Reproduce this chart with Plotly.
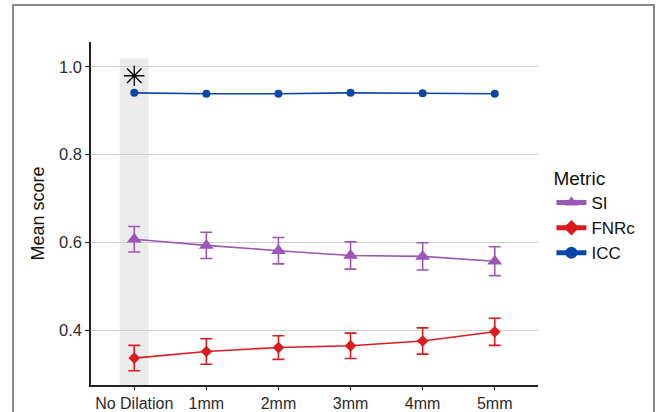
import plotly.graph_objects as go

categories = ["No Dilation", "1mm", "2mm", "3mm", "4mm", "5mm"]

si_mean = [0.607, 0.593, 0.581, 0.570, 0.568, 0.557]
si_err = [0.029, 0.030, 0.030, 0.031, 0.031, 0.033]

fnrc_mean = [0.336, 0.351, 0.360, 0.364, 0.375, 0.396]
fnrc_err = [0.029, 0.029, 0.027, 0.029, 0.030, 0.031]

icc_mean = [0.941, 0.939, 0.939, 0.941, 0.940, 0.939]

star_category = ["No Dilation"]
star_value = [0.98]

y_ticks = [0.4, 0.6, 0.8, 1.0]
y_tick_labels = ["0.4", "0.6", "0.8", "1.0"]

SI_COLOR = "#9E55B8"
FNRC_COLOR = "#DC1B1E"
ICC_COLOR = "#0B45A8"

fig = go.Figure()

fig.add_trace(go.Scatter(
    x=categories, y=si_mean, name="SI", mode="lines+markers",
    line=dict(color=SI_COLOR, width=1.6),
    marker=dict(symbol="triangle-up", size=13, color=SI_COLOR),
    error_y=dict(type="data", array=si_err, color=SI_COLOR, thickness=1.6, width=6),
))
fig.add_trace(go.Scatter(
    x=categories, y=fnrc_mean, name="FNRc", mode="lines+markers",
    line=dict(color=FNRC_COLOR, width=1.6),
    marker=dict(symbol="diamond", size=9, color=FNRC_COLOR),
    error_y=dict(type="data", array=fnrc_err, color=FNRC_COLOR, thickness=1.6, width=6),
))
fig.add_trace(go.Scatter(
    x=categories, y=icc_mean, name="ICC", mode="lines+markers",
    line=dict(color=ICC_COLOR, width=1.6),
    marker=dict(symbol="circle", size=8, color=ICC_COLOR),
))
fig.add_trace(go.Scatter(
    x=star_category, y=star_value, mode="markers", showlegend=False,
    marker=dict(symbol="asterisk-open", size=17, color="black",
                line=dict(color="black", width=1.3)),
    hoverinfo="skip",
))

y_min, y_max = 0.2746, 1.057

fig.add_shape(type="rect", xref="x", yref="y", x0=-0.2, x1=0.2, y0=y_min, y1=1.02,
              fillcolor="rgba(120,120,120,0.15)", line=dict(width=0), layer="below")

# outer frame
fig.add_shape(type="rect", xref="paper", yref="paper",
              x0=-0.1745, x1=1.2595, y0=-0.3, y1=1.108,
              line=dict(color="#8a8a8a", width=2), fillcolor="rgba(0,0,0,0)")

fig.update_layout(
    width=656, height=412,
    margin=dict(l=91, r=118, t=42, b=27, autoexpand=False),
    paper_bgcolor="white", plot_bgcolor="white",
    font=dict(family="Liberation Sans, Arial, sans-serif", color="#333333", size=16),
    showlegend=True,
    legend=dict(
        title=dict(text="Metric", font=dict(size=19, color="#111111")),
        font=dict(size=17, color="#111111"),
        x=1.03, y=0.655, xanchor="left", yanchor="top",
        tracegroupgap=0, itemsizing="constant",
    ),
    xaxis=dict(
        type="category", range=[-0.6, 5.6], automargin=False,
        showline=True, linecolor="#222222", linewidth=1.5,
        ticks="outside", ticklen=3, tickcolor="#222222", tickwidth=1.2,
        showgrid=False, zeroline=False,
        tickfont=dict(size=16, color="#2b2b2b"),
    ),
    yaxis=dict(
        range=[y_min, y_max], automargin=False,
        tickvals=y_ticks, ticktext=y_tick_labels,
        showline=True, linecolor="#222222", linewidth=1.5,
        ticks="outside", ticklen=4, tickcolor="#222222", tickwidth=1.2,
        showgrid=True, gridcolor="#cfcfcf", gridwidth=1.2, zeroline=False,
        tickfont=dict(size=16.5, color="#2b2b2b"),
        title=dict(text="Mean score", font=dict(size=18, color="#111111"), standoff=10),
    ),
)

fig.write_html("out.html", config={"displayModeBar": False},
               post_script="document.body.style.margin='0';")
